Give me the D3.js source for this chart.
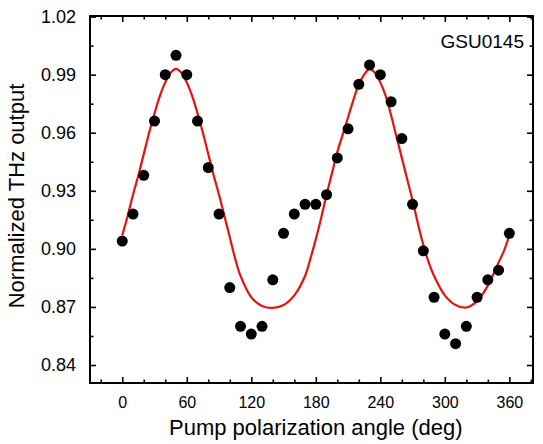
<!DOCTYPE html>
<html>
<head>
<meta charset="utf-8">
<script src="https://cdn.jsdelivr.net/npm/d3@7"></script>
<style>
  body { margin: 0; background: #fff; }
  text { font-family: "Liberation Sans", Arial, sans-serif; fill: #000; }
</style>
</head>
<body>
<div class="chart"></div>
<script>
// measured points
const angles = [0, 10, 20, 30, 40, 50, 60, 70, 80, 90, 100, 110, 120, 130, 140, 150, 160, 170, 180,
    190, 200, 210, 220, 230, 240, 250, 260, 270, 280, 290, 300, 310, 320, 330, 340, 350, 360];
const thz = [0.904, 0.918, 0.938, 0.966, 0.990, 1.000, 0.990, 0.966, 0.942, 0.918, 0.880, 0.860, 0.856,
    0.860, 0.884, 0.908, 0.918, 0.923, 0.923, 0.928, 0.947, 0.962, 0.985, 0.995, 0.990, 0.976, 0.957,
    0.923, 0.899, 0.875, 0.856, 0.851, 0.860, 0.875, 0.884, 0.889, 0.908];

// fit curve
const fitAngles = [0, 5, 10, 15, 20, 25, 30, 35, 40, 45, 50, 55, 60, 65, 70, 75, 80, 85, 90, 95, 100,
    105, 110, 120, 130, 140, 150, 160, 170, 175, 180, 185, 190, 195, 200, 205, 210, 215, 220, 225, 230,
    235, 240, 245, 250, 255, 260, 265, 270, 275, 280, 285, 290, 300, 310, 320, 330, 340, 350, 355, 360];
const fitValues = [0.907, 0.917, 0.928, 0.938, 0.949, 0.960, 0.970, 0.979, 0.986, 0.991, 0.993, 0.991,
    0.986, 0.979, 0.970, 0.960, 0.949, 0.938, 0.928, 0.917, 0.906, 0.895, 0.886, 0.875, 0.8705, 0.8695,
    0.871, 0.876, 0.886, 0.895, 0.905, 0.916, 0.928, 0.939, 0.950, 0.959, 0.968, 0.977, 0.985, 0.990,
    0.993, 0.991, 0.986, 0.979, 0.969, 0.958, 0.947, 0.936, 0.925, 0.913, 0.902, 0.893, 0.886, 0.876,
    0.871, 0.8697, 0.873, 0.881, 0.893, 0.899, 0.907];

const xTicks = [0, 60, 120, 180, 240, 300, 360];
const xMinor = [-20, 20, 40, 80, 100, 140, 160, 200, 220, 260, 280, 320, 340, 380];
const yTicks = [0.84, 0.87, 0.90, 0.93, 0.96, 0.99, 1.02];
const yMinor = [0.855, 0.885, 0.915, 0.945, 0.975, 1.005];
const sampleName = "GSU0145";

const width = 543, height = 444;
const margin = ({ top: 16, right: 10, bottom: 61, left: 90 });
const w = width - margin.left - margin.right,
    h = height - margin.top - margin.bottom;

let svg = d3.select(".chart").append("svg")
    .attr("width", width)
    .attr("height", height)
    .append("g")
    .attr("transform", "translate(" + margin.left + "," + margin.top + ")");

let xScale = d3.scaleLinear().domain([-30, 382]).range([0, w]);
let yScale = d3.scaleLinear().domain([0.8307, 1.0203]).range([h, 0]);

// axes, ticks pointing inwards on all four sides
function tickAxis(axisFn, scale, ticks, size) {
    return axisFn(scale).tickValues(ticks).tickSizeInner(size).tickSizeOuter(0).tickFormat("");
}

svg.append("g").attr("class", "axis x-axis")
    .attr("transform", `translate(0, ${h})`)
    .call(d3.axisBottom(xScale).tickValues(xTicks).tickSize(-6).tickSizeOuter(0).tickPadding(14));
svg.append("g").attr("transform", `translate(0, ${h})`).call(tickAxis(d3.axisBottom, xScale, xMinor, -3.5));
svg.append("g").call(tickAxis(d3.axisTop, xScale, xTicks, -6));
svg.append("g").call(tickAxis(d3.axisTop, xScale, xMinor, -3.5));

svg.append("g").attr("class", "axis y-axis")
    .call(d3.axisLeft(yScale).tickValues(yTicks).tickSize(-6).tickSizeOuter(0).tickPadding(14)
        .tickFormat(d3.format(".2f")));
svg.append("g").call(tickAxis(d3.axisLeft, yScale, yMinor, -3.5));
svg.append("g").attr("transform", `translate(${w}, 0)`).call(tickAxis(d3.axisRight, yScale, yTicks, -6));
svg.append("g").attr("transform", `translate(${w}, 0)`).call(tickAxis(d3.axisRight, yScale, yMinor, -3.5));

svg.selectAll(".domain").remove();
svg.selectAll(".tick line").attr("stroke", "#000").attr("stroke-width", 1.6);
svg.selectAll(".x-axis .tick text").attr("font-size", 16).attr("font-family", null);
svg.selectAll(".y-axis .tick text").attr("font-size", 18).attr("font-family", null);

svg.append("rect")
    .attr("width", w).attr("height", h)
    .attr("fill", "none").attr("stroke", "#000").attr("stroke-width", 2);

// fit
let line = d3.line()
    .x(function (d) { return xScale(d[0]); })
    .y(function (d) { return yScale(d[1]); })
    .curve(d3.curveCatmullRom.alpha(0.5));

svg.append("path")
    .datum(fitAngles.map(function (a, i) { return [a, fitValues[i]]; }))
    .attr("fill", "none")
    .attr("stroke", "#e8120c")
    .attr("stroke-width", 2.2)
    .attr("d", line);

svg.selectAll(".dot")
    .data(angles)
    .join("circle")
    .attr("class", "dot")
    .attr("cx", function (d) { return xScale(d); })
    .attr("cy", function (d, i) { return yScale(thz[i]); })
    .attr("r", 5.5)
    .attr("fill", "#000");

svg.append("text")
    .attr("x", w - 9).attr("y", 32)
    .attr("text-anchor", "end")
    .attr("font-size", 19)
    .text(sampleName);

svg.append("text")
    .attr("x", xScale(180)).attr("y", 435 - margin.top)
    .attr("text-anchor", "middle")
    .attr("font-size", 22)
    .text("Pump polarization angle (deg)");

svg.append("text")
    .attr("transform", `translate(${24 - margin.left}, ${196 - margin.top}) rotate(-90)`)
    .attr("text-anchor", "middle")
    .attr("font-size", 22)
    .text("Normalized THz output");
</script>
</body>
</html>
